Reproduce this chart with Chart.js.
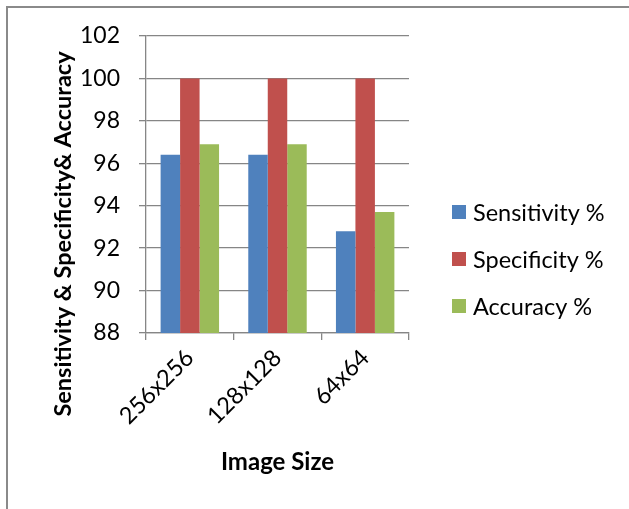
<!DOCTYPE html>
<html>
<head>
<meta charset="utf-8">
<script src="https://cdn.jsdelivr.net/npm/chart.js@4/dist/chart.umd.min.js"></script>
<style>
html,body{margin:0;padding:0;background:#fff;}
#wrap{position:relative;width:629px;height:509px;}
</style>
</head>
<body>
<div id="wrap"><canvas id="c" width="629" height="509"></canvas></div>
<script>
const categories = ["256x256", "128x128", "64x64"];
const seriesNames = ["Sensitivity %", "Specificity %", "Accuracy %"];
const sensitivity = [96.4, 96.4, 92.8];
const specificity = [100, 100, 100];
const accuracy = [96.9, 96.9, 93.7];
const yTicks = [88, 90, 92, 94, 96, 98, 100, 102];
const xTitle = "Image Size";
const yTitle = "Sensitivity & Specificity& Accuracy";

const colors = ["#4F81BD", "#C0504D", "#9BBB59"];
const FONT = "Lato, 'Open Sans', sans-serif";
const GRID = "#868686";

const decor = {
  id: "decor",
  beforeDraw(chart) {
    const ctx = chart.ctx;
    ctx.save();
    ctx.fillStyle = "#ffffff";
    ctx.fillRect(0, 0, chart.width, chart.height);
    ctx.fillStyle = "#8a8a8a";
    ctx.fillRect(6, 6, chart.width - 6, 2);
    ctx.fillRect(6, 6, 2, chart.height - 6);
    ctx.restore();
  },
  afterDraw(chart) {
    const ctx = chart.ctx;
    ctx.save();
    ctx.translate(63, 234);
    ctx.rotate(-Math.PI / 2);
    ctx.font = "bold 23.5px " + FONT;
    ctx.fillStyle = "#000";
    ctx.textAlign = "center";
    ctx.textBaseline = "middle";
    ctx.fillText(yTitle, 0, 0);
    ctx.restore();
    ctx.save();
    ctx.font = "23.5px " + FONT;
    ctx.textBaseline = "middle";
    ctx.textAlign = "left";
    chart.data.datasets.forEach((ds, i) => {
      const cy = 212 + i * 47;
      ctx.fillStyle = ds.backgroundColor;
      ctx.fillRect(452, cy - 7, 14, 14);
      ctx.fillStyle = "#000";
      ctx.fillText(ds.label, 473, cy + 1);
    });
    ctx.restore();
  }
};

new Chart(document.getElementById("c"), {
  type: "bar",
  data: {
    labels: categories,
    datasets: [
      { label: seriesNames[0], data: sensitivity, backgroundColor: colors[0] },
      { label: seriesNames[1], data: specificity, backgroundColor: colors[1] },
      { label: seriesNames[2], data: accuracy, backgroundColor: colors[2] }
    ]
  },
  options: {
    responsive: false,
    animation: false,
    events: [],
    categoryPercentage: 0.6667,
    barPercentage: 1.0,
    layout: { padding: { left: 0, top: 36, right: 629 - 409, bottom: 0 } },
    plugins: { legend: { display: false }, tooltip: { enabled: false } },
    scales: {
      x: {
        grid: { offset: true, drawOnChartArea: false, drawTicks: true, tickLength: 7, color: GRID, lineWidth: 1.3 },
        border: { color: GRID, width: 1.3 },
        ticks: { color: "#000", font: { family: FONT, size: 23.5 }, maxRotation: 45, minRotation: 45, padding: 4 },
        title: { display: true, text: xTitle, color: "#000", font: { family: FONT, size: 24, weight: "bold" }, padding: { top: 0, bottom: 32 } },
        afterFit(s) { s.height = 509 - 333; }
      },
      y: {
        min: 88, max: 102,
        afterBuildTicks(s) { s.ticks = yTicks.map(v => ({ value: v })); },
        grid: { drawTicks: true, tickLength: 7, color: GRID, lineWidth: 1.3 },
        border: { color: GRID, width: 1.3 },
        ticks: { color: "#000", font: { family: FONT, size: 23 }, padding: 19 },
        afterFit(s) { s.width = 146; }
      }
    }
  },
  plugins: [decor]
});
</script>
</body>
</html>
